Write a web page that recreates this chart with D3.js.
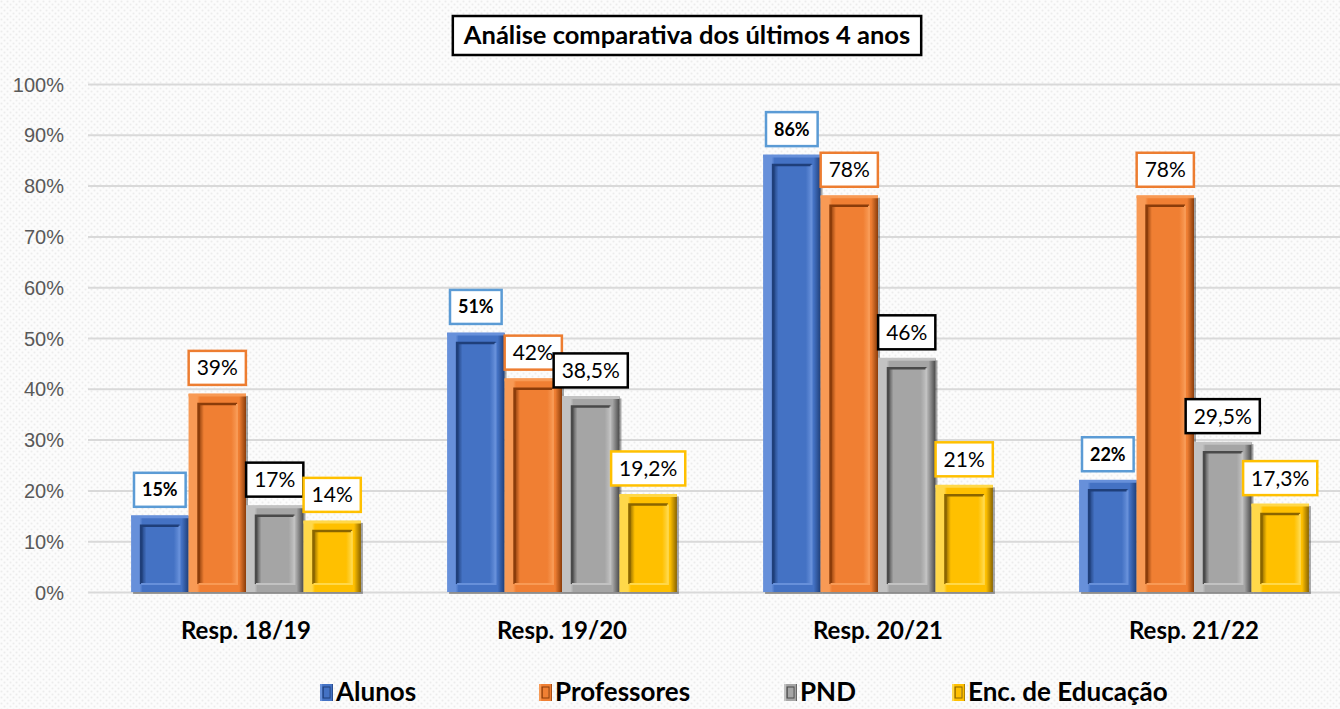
<!DOCTYPE html>
<html lang="pt">
<head>
  <meta charset="UTF-8">
  <title>Análise comparativa dos últimos 4 anos</title>
  <script src="https://d3js.org/d3.v7.min.js"></script>
  <style>
    body { margin: 0; background: #fff; font-family: Lato, 'Noto Sans', sans-serif; }
    .tick-label { fill: #595959; font-size: 20px; }
    .cat-label { fill: #000; font-size: 24px; font-weight: bold; }
    .legend text { fill: #000; font-size: 26px; font-weight: bold; }
  </style>
</head>
<body>
  <svg id="chart" width="1340" height="709"></svg>

  <script>
    const categories = ["Resp. 18/19", "Resp. 19/20", "Resp. 20/21", "Resp. 21/22"];
    const seriesNames = ["Alunos", "Professores", "PND", "Enc. de Educação"];
    const alunos      = [15, 51, 86, 22];
    const professores = [39, 42, 78, 78];
    const pnd         = [17, 38.5, 46, 29.5];
    const encEducacao = [14, 19.2, 21, 17.3];
    const yTicks = [0, 10, 20, 30, 40, 50, 60, 70, 80, 90, 100];

    const values = [alunos, professores, pnd, encEducacao];
    const data = categories.map((c, i) => ({
      cat: c,
      vals: seriesNames.map((s, j) => ({ series: s, idx: j, value: values[j][i] }))
    }));

    // bar colours: base, light, dark, label border
    const palette = [
      { base: "#4472C4", light: "#6790DA", dark: "#1F3F7A", box: "#5B9BD5" },
      { base: "#F07F33", light: "#F89A55", dark: "#8A3C0A", box: "#ED7D31" },
      { base: "#A5A5A5", light: "#C2C2C2", dark: "#4A4A4A", box: "#000000" },
      { base: "#FFC000", light: "#FFD84A", dark: "#8A6500", box: "#FFC000" }
    ];

    const svg = d3.select("#chart");
    const defs = svg.append("defs");

    // dotted background
    const pat = defs.append("pattern").attr("id", "dots")
      .attr("width", 6).attr("height", 6).attr("patternUnits", "userSpaceOnUse");
    pat.append("rect").attr("width", 6).attr("height", 6).attr("fill", "#fcfcfc");
    pat.append("circle").attr("cx", 1.5).attr("cy", 1.5).attr("r", 1).attr("fill", "#ececec");
    pat.append("circle").attr("cx", 4.5).attr("cy", 4.5).attr("r", 1).attr("fill", "#ececec");
    svg.append("rect").attr("width", 1340).attr("height", 709).attr("fill", "url(#dots)");

    palette.forEach((p, i) => {
      const g = defs.append("linearGradient").attr("id", "outer" + i)
        .attr("x1", 0).attr("x2", 1).attr("y1", 0).attr("y2", 0);
      g.append("stop").attr("offset", "0%").attr("stop-color", p.light);
      g.append("stop").attr("offset", "15%").attr("stop-color", p.light);
      g.append("stop").attr("offset", "20%").attr("stop-color", p.base);
      g.append("stop").attr("offset", "88%").attr("stop-color", p.base);
      g.append("stop").attr("offset", "100%").attr("stop-color", p.dark);
      const gi = defs.append("linearGradient").attr("id", "inner" + i)
        .attr("x1", 0).attr("x2", 1).attr("y1", 0).attr("y2", 0);
      gi.append("stop").attr("offset", "0%").attr("stop-color", p.dark);
      gi.append("stop").attr("offset", "14%").attr("stop-color", p.base);
      gi.append("stop").attr("offset", "85%").attr("stop-color", p.base);
      gi.append("stop").attr("offset", "100%").attr("stop-color", p.light);
    });

    const margin = { top: 84, left: 88, bottom: 117 };
    const height = 709 - margin.top - margin.bottom;

    const y = d3.scaleLinear().domain([0, 100]).range([margin.top + height, margin.top]);
    const x0 = d3.scaleBand().domain(categories).range([88, 1352]).paddingInner(0).paddingOuter(0);
    const x1 = d3.scaleBand().domain(seriesNames).range([0, x0.bandwidth()]).paddingOuter(0.75).paddingInner(0);

    // gridlines + y labels
    const axis = svg.append("g")
      .attr("transform", `translate(${margin.left},0)`)
      .call(d3.axisLeft(y).tickValues(yTicks).tickSize(-1260).tickFormat(d => d + "%"));
    axis.select(".domain").remove();
    axis.selectAll(".tick line").attr("stroke", "#d9d9d9").attr("stroke-width", 2).attr("x1", 0);
    axis.selectAll(".tick text").attr("class", "tick-label").attr("x", -24).attr("dy", "0.35em");

    // bars
    const groups = svg.selectAll(".grp").data(data).enter().append("g")
      .attr("transform", d => `translate(${x0(d.cat)},0)`);

    const bars = groups.selectAll(".bar").data(d => d.vals).enter().append("g").attr("class", "bar");
    const bw = x1.bandwidth();

    bars.append("rect")
      .attr("x", d => x1(d.series) + 2).attr("y", d => y(d.value) + 2)
      .attr("width", bw).attr("height", d => y(0) - y(d.value))
      .attr("fill", "rgba(0,0,0,0.35)");
    bars.append("rect")
      .attr("x", d => x1(d.series)).attr("y", d => y(d.value))
      .attr("width", bw).attr("height", d => y(0) - y(d.value))
      .attr("fill", d => `url(#outer${d.idx})`);
    bars.append("line")
      .attr("x1", d => x1(d.series)).attr("x2", d => x1(d.series) + bw)
      .attr("y1", d => y(d.value) + 1).attr("y2", d => y(d.value) + 1)
      .attr("stroke", d => palette[d.idx].light).attr("stroke-width", 3);
    bars.append("rect")
      .attr("x", d => x1(d.series) + 10).attr("y", d => y(d.value) + 10)
      .attr("width", bw - 19).attr("height", d => Math.max(0, y(0) - y(d.value) - 18))
      .attr("fill", d => `url(#inner${d.idx})`);
    bars.append("path")
      .attr("d", d => {
        const xl = x1(d.series) + 10, yt = y(d.value) + 10;
        const xr = xl + bw - 19, yb = y(0) - 8;
        return `M${xl},${yb} L${xl},${yt} L${xr},${yt}`;
      })
      .attr("fill", "none").attr("stroke", d => palette[d.idx].dark).attr("stroke-width", 2.5);
    bars.append("path")
      .attr("d", d => {
        const xl = x1(d.series) + 10, yt = y(d.value) + 10;
        const xr = xl + bw - 19, yb = y(0) - 8;
        return `M${xr},${yt} L${xr},${yb} L${xl},${yb}`;
      })
      .attr("fill", "none").attr("stroke", d => palette[d.idx].light).attr("stroke-width", 2);

    // value labels
    const fmt = v => String(v).replace(".", ",") + "%";
    bars.each(function(d) {
      const g = d3.select(this);
      const cx = x1(d.series) + bw / 2;
      const t = g.append("text")
        .attr("x", cx).attr("y", y(d.value) - 9 - 17)
        .attr("text-anchor", "middle").attr("dy", "0.36em")
        .style("font-size", d.idx === 0 ? "18px" : "21px")
        .style("font-weight", d.idx === 0 ? "bold" : "normal")
        .text(fmt(d.value));
      const w = t.node().getComputedTextLength() + 16;
      g.insert("rect", "text")
        .attr("x", cx - w / 2).attr("y", y(d.value) - 9 - 34)
        .attr("width", w).attr("height", 34)
        .attr("fill", "#fff")
        .attr("stroke", palette[d.idx].box).attr("stroke-width", 2.5);
    });

    // category labels
    svg.selectAll(".cat-label").data(categories).enter().append("text")
      .attr("class", "cat-label")
      .attr("x", d => x0(d) + x0.bandwidth() / 2).attr("y", 639)
      .attr("text-anchor", "middle").text(d => d);

    // title
    const title = svg.append("g");
    const tt = title.append("text").attr("x", 687).attr("y", 44)
      .attr("text-anchor", "middle").style("font-size", "25.5px").style("font-weight", "bold")
      .text("Análise comparativa dos últimos 4 anos");
    const tw = tt.node().getComputedTextLength() + 22;
    title.insert("rect", "text").attr("x", 687 - tw / 2).attr("y", 16)
      .attr("width", tw).attr("height", 39).attr("fill", "#fff")
      .attr("stroke", "#000").attr("stroke-width", 2.5);

    // legend
    const legendX = [336, 555, 800, 968];
    const legend = svg.append("g").attr("class", "legend");
    seriesNames.forEach((s, i) => {
      const p = palette[i];
      const lg = legend.append("g").attr("transform", `translate(${legendX[i]},0)`);
      lg.append("rect").attr("x", -16).attr("y", 684).attr("width", 13).attr("height", 17)
        .attr("fill", `url(#outer${i})`);
      lg.append("rect").attr("x", -13).attr("y", 687).attr("width", 7).attr("height", 11)
        .attr("fill", `url(#inner${i})`).attr("stroke", p.dark).attr("stroke-width", 1);
      lg.append("text").attr("x", 0).attr("y", 701).text(s);
    });
  </script>
</body>
</html>
